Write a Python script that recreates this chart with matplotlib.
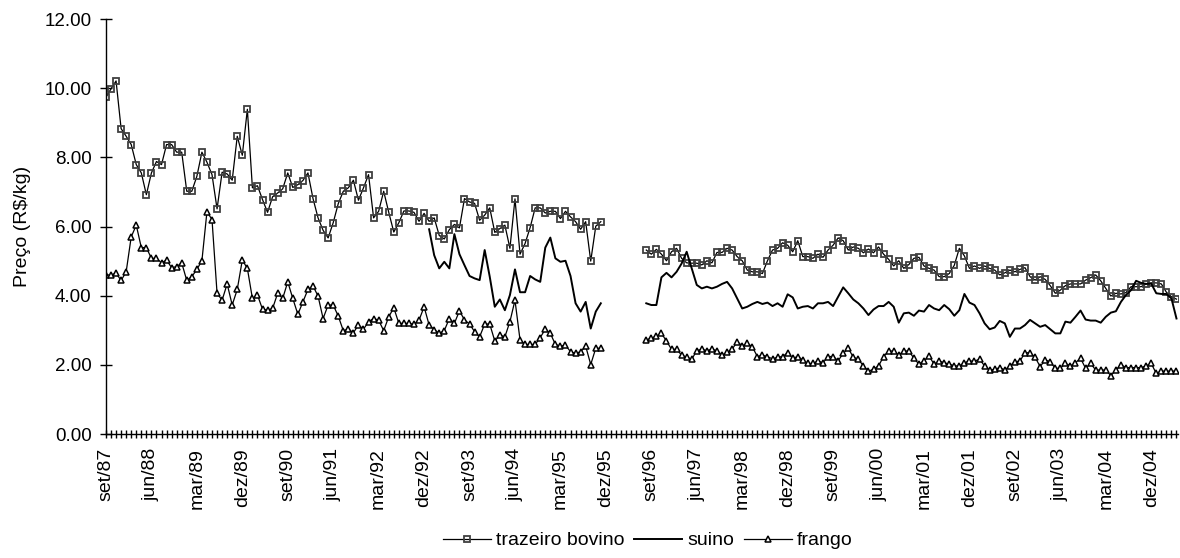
import numpy as np
import pandas as pd
import matplotlib
matplotlib.use('Agg')
import matplotlib.pyplot as plt
from matplotlib.ticker import FormatStrFormatter

plt.rcParams['font.family'] = ['Liberation Sans', 'DejaVu Sans']

# monthly series, set/87 .. mai/05 (no data from dez/95 to jul/96)
meses = ['jan', 'fev', 'mar', 'abr', 'mai', 'jun', 'jul', 'ago', 'set', 'out', 'nov', 'dez']
datas = pd.date_range('1987-09-01', '2005-05-01', freq='MS')
rotulos = [f"{meses[d.month - 1]}/{d.year % 100:02d}" for d in datas]

# trazeiro bovino: set/87-nov/95 and ago/96-mai/05
trazeiro_a = [9.74, 9.98, 10.21, 8.83, 8.61, 8.37, 7.79, 7.55, 6.92, 7.55,
              7.88, 7.79, 8.37, 8.37, 8.15, 8.15, 7.02, 7.02, 7.45, 8.15,
              7.86, 7.50, 6.51, 7.57, 7.52, 7.34, 8.61, 8.06, 9.39, 7.12,
              7.18, 6.78, 6.41, 6.86, 6.97, 7.09, 7.55, 7.13, 7.21, 7.33,
              7.55, 6.81, 6.25, 5.89, 5.67, 6.11, 6.66, 7.02, 7.12, 7.34,
              6.76, 7.12, 7.50, 6.25, 6.44, 7.02, 6.41, 5.84, 6.11, 6.45,
              6.45, 6.41, 6.15, 6.38, 6.15, 6.25, 5.74, 5.64, 5.91, 6.06,
              5.96, 6.81, 6.71, 6.67, 6.18, 6.33, 6.54, 5.83, 5.94, 6.04,
              5.37, 6.80, 5.20, 5.51, 5.97, 6.54, 6.54, 6.39, 6.44, 6.44,
              6.23, 6.44, 6.28, 6.14, 5.92, 6.14, 5.00, 6.01, 6.14]
trazeiro_b = [5.32, 5.20, 5.34, 5.20, 5.01, 5.27, 5.37, 5.08, 4.95, 4.94,
              4.94, 4.89, 5.01, 4.95, 5.25, 5.25, 5.37, 5.32, 5.13, 5.01,
              4.74, 4.69, 4.69, 4.64, 5.01, 5.32, 5.37, 5.53, 5.46, 5.27,
              5.59, 5.13, 5.13, 5.08, 5.20, 5.11, 5.32, 5.46, 5.67, 5.59,
              5.32, 5.41, 5.37, 5.24, 5.35, 5.24, 5.41, 5.20, 5.05, 4.86,
              5.01, 4.79, 4.90, 5.08, 5.11, 4.86, 4.79, 4.74, 4.55, 4.55,
              4.64, 4.88, 5.37, 5.15, 4.79, 4.86, 4.79, 4.86, 4.79, 4.74,
              4.60, 4.66, 4.74, 4.69, 4.76, 4.81, 4.55, 4.45, 4.55, 4.47,
              4.29, 4.07, 4.16, 4.29, 4.34, 4.34, 4.34, 4.45, 4.52, 4.60,
              4.43, 4.21, 3.99, 4.07, 4.05, 4.09, 4.26, 4.26, 4.26, 4.34,
              4.37, 4.37, 4.34, 4.10, 3.97, 3.90]

# suino: jan/93-nov/95 and ago/96-mai/05
suino_a = [5.92, 5.17, 4.79, 4.98, 4.79, 5.78, 5.20, 4.88, 4.57, 4.50,
           4.45, 5.32, 4.55, 3.68, 3.89, 3.58, 4.02, 4.76, 4.10, 4.10,
           4.57, 4.47, 4.40, 5.39, 5.68, 5.08, 4.98, 5.01, 4.57, 3.78,
           3.54, 3.82, 3.05, 3.54, 3.78]
suino_b = [3.78, 3.73, 3.73, 4.53, 4.66, 4.53, 4.69, 4.93, 5.27, 4.79,
           4.31, 4.21, 4.26, 4.21, 4.26, 4.34, 4.40, 4.21, 3.92, 3.63,
           3.68, 3.76, 3.82, 3.76, 3.80, 3.70, 3.78, 3.68, 4.04, 3.95,
           3.63, 3.68, 3.70, 3.63, 3.78, 3.78, 3.82, 3.70, 3.97, 4.24,
           4.07, 3.89, 3.78, 3.63, 3.44, 3.60, 3.70, 3.70, 3.82, 3.68,
           3.22, 3.49, 3.51, 3.42, 3.57, 3.54, 3.73, 3.63, 3.58, 3.73,
           3.61, 3.42, 3.58, 4.05, 3.80, 3.73, 3.49, 3.20, 3.03, 3.08,
           3.27, 3.20, 2.81, 3.05, 3.05, 3.15, 3.30, 3.20, 3.10, 3.15,
           3.03, 2.91, 2.91, 3.25, 3.22, 3.39, 3.57, 3.31, 3.28, 3.28,
           3.22, 3.39, 3.51, 3.55, 3.82, 4.02, 4.16, 4.43, 4.37, 4.34,
           4.35, 4.07, 4.05, 4.05, 3.92, 3.34]

# frango: set/87-nov/95 and ago/96-mai/05
frango_a = [4.60, 4.60, 4.65, 4.44, 4.69, 5.70, 6.04, 5.39, 5.39, 5.08,
            5.08, 4.95, 5.03, 4.81, 4.84, 4.95, 4.44, 4.55, 4.76, 5.01,
            6.43, 6.20, 4.07, 3.87, 4.34, 3.73, 4.18, 5.03, 4.79, 3.92,
            4.02, 3.61, 3.58, 3.63, 4.07, 3.92, 4.40, 3.92, 3.46, 3.82,
            4.18, 4.28, 3.99, 3.34, 3.73, 3.73, 3.41, 2.99, 3.03, 2.93,
            3.15, 3.03, 3.25, 3.34, 3.29, 2.99, 3.39, 3.65, 3.20, 3.20,
            3.20, 3.17, 3.29, 3.68, 3.15, 3.02, 2.91, 2.99, 3.34, 3.20,
            3.56, 3.30, 3.18, 2.96, 2.81, 3.18, 3.18, 2.69, 2.86, 2.81,
            3.25, 3.87, 2.72, 2.59, 2.59, 2.59, 2.79, 3.03, 2.91, 2.59,
            2.54, 2.57, 2.38, 2.33, 2.38, 2.54, 2.01, 2.48, 2.48]
frango_b = [2.72, 2.77, 2.83, 2.91, 2.69, 2.45, 2.45, 2.28, 2.22, 2.16,
            2.41, 2.45, 2.41, 2.45, 2.41, 2.28, 2.36, 2.45, 2.67, 2.55,
            2.62, 2.52, 2.24, 2.28, 2.24, 2.17, 2.22, 2.24, 2.35, 2.19,
            2.24, 2.14, 2.04, 2.04, 2.11, 2.06, 2.24, 2.24, 2.12, 2.33,
            2.48, 2.22, 2.16, 1.97, 1.82, 1.87, 1.97, 2.24, 2.40, 2.40,
            2.28, 2.40, 2.40, 2.19, 2.02, 2.12, 2.25, 2.02, 2.11, 2.06,
            2.02, 1.97, 1.97, 2.06, 2.11, 2.11, 2.16, 1.97, 1.85, 1.87,
            1.92, 1.85, 1.97, 2.09, 2.11, 2.35, 2.35, 2.22, 1.95, 2.14,
            2.09, 1.90, 1.90, 2.04, 1.97, 2.06, 2.19, 1.90, 2.04, 1.85,
            1.85, 1.85, 1.69, 1.85, 2.00, 1.92, 1.92, 1.92, 1.92, 1.97,
            2.04, 1.75, 1.82, 1.82, 1.82, 1.82]

n = len(datas)
x = np.arange(n)
ini_b = rotulos.index('ago/96')


def serie(parte_a, parte_b, ini_a=0):
    s = np.full(n, np.nan)
    s[ini_a:ini_a + len(parte_a)] = parte_a
    s[ini_b:ini_b + len(parte_b)] = parte_b
    return s


trazeiro = serie(trazeiro_a, trazeiro_b)
suino = serie(suino_a, suino_b, rotulos.index('jan/93'))
frango = serie(frango_a, frango_b)

fig = plt.figure(figsize=(11.8, 5.58), dpi=100)
ax = fig.add_axes([0.0898, 0.2222, 0.9085, 0.7437])

ax.plot(x, trazeiro, color='black', lw=0.9, marker='s', ms=4.4,
        mfc='none', mec='#404040', mew=1.3, label='trazeiro bovino')
ax.plot(x, suino, color='black', lw=1.4, label='suino')
ax.plot(x, frango, color='black', lw=0.9, marker='^', ms=5.0,
        mfc='white', mec='black', mew=1.1, label='frango')

ax.set_ylim(0, 12)
ax.set_yticks(np.arange(0, 12.1, 2))
ax.yaxis.set_major_formatter(FormatStrFormatter('%.2f'))
ax.set_xlim(0, n - 0.7)
ax.set_xticks(x[::9])
ax.set_xticklabels(rotulos[::9], rotation=90)
ax.set_xticks(x, minor=True)

for lado in ['top', 'right']:
    ax.spines[lado].set_visible(False)
for lado in ['left', 'bottom']:
    ax.spines[lado].set_linewidth(1.0)

ax.tick_params(axis='y', direction='inout', length=8.6, width=1,
               labelsize=13.5, pad=6)
ax.tick_params(axis='x', which='both', direction='inout', length=6, width=1,
               labelsize=14, pad=7)
ax.set_ylabel('Preço (R$/kg)', fontsize=14)
ax.yaxis.set_label_coords(-0.078, 0.5)
ax.yaxis.label.set_va('center')

fig.legend(loc='lower center', bbox_to_anchor=(0.549, -0.016), ncol=3,
           frameon=False, fontsize=14, handlelength=2.46, columnspacing=0.5,
           handletextpad=0.25, numpoints=1)

fig.savefig('out.png', dpi=100)
